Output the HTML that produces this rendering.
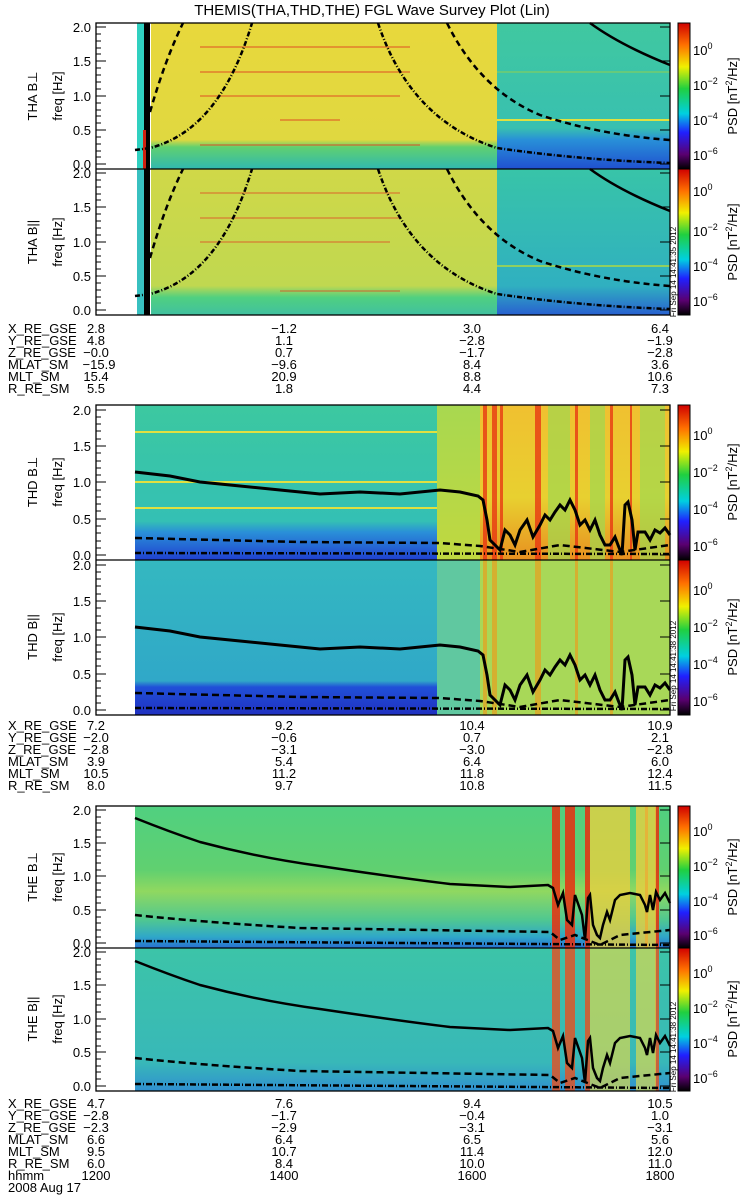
<!DOCTYPE html>
<html><head><meta charset="utf-8"><style>
body{margin:0;background:#fff;}
svg{display:block;font-family:"Liberation Sans",sans-serif;}
text{font-size:13px;fill:#000;}
text.st{font-size:8px;}
</style></head><body>
<svg width="750" height="1200" viewBox="0 0 750 1200" xmlns="http://www.w3.org/2000/svg">
<defs>
<linearGradient id="cb" x1="0" y1="1" x2="0" y2="0">
<stop offset="0" stop-color="#000"/><stop offset="0.1" stop-color="#5a0070"/><stop offset="0.25" stop-color="#2020ff"/><stop offset="0.38" stop-color="#00d0e0"/><stop offset="0.55" stop-color="#20d040"/><stop offset="0.7" stop-color="#f0f000"/><stop offset="0.85" stop-color="#ff7000"/><stop offset="1" stop-color="#d00000"/>
</linearGradient>
<linearGradient id="g1y" x1="0" y1="0" x2="0" y2="1"><stop offset="0" stop-color="#e8d83c"/><stop offset="0.8" stop-color="#e0d840"/><stop offset="0.85" stop-color="#60d070"/><stop offset="1" stop-color="#30b8b0"/></linearGradient>
<linearGradient id="g1c" x1="0" y1="0" x2="0" y2="1"><stop offset="0" stop-color="#40c8a0"/><stop offset="0.72" stop-color="#38c0b0"/><stop offset="0.8" stop-color="#2890d8"/><stop offset="1" stop-color="#2050d0"/></linearGradient>
<linearGradient id="g2y" x1="0" y1="0" x2="0" y2="1"><stop offset="0" stop-color="#d0d848"/><stop offset="0.8" stop-color="#c0d850"/><stop offset="0.88" stop-color="#50d080"/><stop offset="1" stop-color="#40c0a0"/></linearGradient>
<linearGradient id="g2c" x1="0" y1="0" x2="0" y2="1"><stop offset="0" stop-color="#38c4a8"/><stop offset="0.8" stop-color="#30b0c0"/><stop offset="1" stop-color="#2860d0"/></linearGradient>
<linearGradient id="g3c" x1="0" y1="0" x2="0" y2="1"><stop offset="0" stop-color="#3cc8a0"/><stop offset="0.75" stop-color="#34c0b4"/><stop offset="0.82" stop-color="#2a90d8"/><stop offset="1" stop-color="#2040d0"/></linearGradient>
<linearGradient id="g4c" x1="0" y1="0" x2="0" y2="1"><stop offset="0" stop-color="#34b8c0"/><stop offset="0.78" stop-color="#30a8c8"/><stop offset="0.82" stop-color="#2050d8"/><stop offset="1" stop-color="#2030c0"/></linearGradient>
<linearGradient id="g5c" x1="0" y1="0" x2="0" y2="1"><stop offset="0" stop-color="#50d080"/><stop offset="0.45" stop-color="#60d070"/><stop offset="0.6" stop-color="#90d860"/><stop offset="0.8" stop-color="#50c890"/><stop offset="0.92" stop-color="#30a8c8"/><stop offset="1" stop-color="#2870d0"/></linearGradient>
<linearGradient id="g6c" x1="0" y1="0" x2="0" y2="1"><stop offset="0" stop-color="#3cc4a8"/><stop offset="0.8" stop-color="#38b8b8"/><stop offset="1" stop-color="#3090d0"/></linearGradient>
<linearGradient id="gr" x1="0" y1="0" x2="0" y2="1"><stop offset="0" stop-color="#f0c030"/><stop offset="0.6" stop-color="#e8d030"/><stop offset="1" stop-color="#e89020"/></linearGradient>
<linearGradient id="grg" x1="0" y1="0" x2="0" y2="1"><stop offset="0" stop-color="#a8d850"/><stop offset="1" stop-color="#c0d840"/></linearGradient>
</defs>

<text x="372" y="15" text-anchor="middle" style="font-size:15px">THEMIS(THA,THD,THE) FGL Wave Survey Plot (Lin)</text>

<!-- PANEL 1 -->
<rect x="137" y="23" width="8" height="146" fill="#30d0c0"/>
<rect x="151" y="23" width="346" height="146" fill="url(#g1y)"/>
<rect x="497" y="23" width="173" height="146" fill="url(#g1c)"/>
<g stroke="#e04020" stroke-width="1.5" opacity="0.6"><line x1="200" y1="47" x2="410" y2="47"/><line x1="200" y1="72" x2="410" y2="72"/><line x1="200" y1="96" x2="400" y2="96"/><line x1="280" y1="120" x2="340" y2="120"/><line x1="200" y1="145" x2="420" y2="145"/></g>
<line x1="497" y1="120" x2="670" y2="120" stroke="#e0e040" stroke-width="2"/>
<line x1="497" y1="72" x2="670" y2="72" stroke="#90d050" stroke-width="1"/>
<rect x="144" y="23" width="6" height="146" fill="#000"/>
<rect x="143" y="130" width="3" height="39" fill="#d02010"/>
<g fill="none" stroke="#000" stroke-width="2.5">
<path d="M590,23 Q620,45 670,65"/>
<path d="M150,112 Q165,60 183,23" stroke-dasharray="6,4"/>
<path d="M447,23 Q480,90 540,115 Q600,135 670,140" stroke-dasharray="6,4"/>
<path d="M135,150 L150,148 Q220,130 252,23" stroke-dasharray="5,2,1,2"/>
<path d="M378,23 Q410,120 497,148 Q580,160 670,163" stroke-dasharray="5,2,1,2"/>
</g>

<!-- PANEL 2 -->
<rect x="137" y="169" width="8" height="146" fill="#38c0c0"/>
<rect x="151" y="169" width="346" height="146" fill="url(#g2y)"/>
<rect x="497" y="169" width="173" height="146" fill="url(#g2c)"/>
<g stroke="#e04020" stroke-width="1.5" opacity="0.5"><line x1="200" y1="193" x2="400" y2="193"/><line x1="200" y1="218" x2="400" y2="218"/><line x1="200" y1="242" x2="390" y2="242"/><line x1="280" y1="291" x2="400" y2="291"/></g>
<line x1="497" y1="266" x2="670" y2="266" stroke="#90d060" stroke-width="2"/>
<rect x="144" y="169" width="6" height="146" fill="#000"/>
<g fill="none" stroke="#000" stroke-width="2.5">
<path d="M590,169 Q620,191 670,211"/>
<path d="M150,258 Q165,206 183,169" stroke-dasharray="6,4"/>
<path d="M447,169 Q480,236 540,261 Q600,281 670,286" stroke-dasharray="6,4"/>
<path d="M135,296 L150,294 Q220,276 252,169" stroke-dasharray="5,2,1,2"/>
<path d="M378,169 Q410,266 497,294 Q580,306 670,309" stroke-dasharray="5,2,1,2"/>
</g>

<!-- PANEL 3 -->
<rect x="135" y="405" width="302" height="155" fill="url(#g3c)"/>
<rect x="437" y="405" width="43" height="155" fill="url(#grg)"/>
<rect x="480" y="405" width="190" height="155" fill="url(#gr)"/>
<g fill="#e83010" opacity="0.75"><rect x="483" y="405" width="4" height="155"/><rect x="492" y="405" width="5" height="155"/><rect x="500" y="405" width="3" height="155"/><rect x="535" y="405" width="6" height="155"/><rect x="575" y="405" width="3" height="155"/><rect x="610" y="405" width="3" height="155"/><rect x="630" y="405" width="2" height="155"/></g>
<g fill="#a0d850" opacity="0.7"><rect x="548" y="405" width="22" height="155"/><rect x="590" y="405" width="15" height="155"/><rect x="640" y="405" width="25" height="155"/></g>
<g stroke="#e0e040" stroke-width="2"><line x1="135" y1="432" x2="437" y2="432"/><line x1="135" y1="482" x2="437" y2="482"/><line x1="135" y1="508" x2="437" y2="508"/></g>
<g fill="none" stroke="#000" stroke-width="2.5">
<path d="M135,472 L170,476 L200,482 L240,486 L280,490 L320,494 L360,492 L400,494 L440,490 L460,492 L478,496 L483,500 L487,520 L490,540 L495,545 L500,550 L505,530 L510,535 L515,545 L520,530 L527,520 L533,537 L540,525 L545,515 L550,520 L555,512 L560,505 L565,510 L570,500 L575,510 L580,525 L585,520 L590,530 L595,520 L600,535 L605,545 L610,545 L615,537 L618,545 L622,555 L625,505 L628,502 L632,520 L635,550 L638,532 L645,532 L650,540 L655,530 L660,533 L665,528 L670,535" stroke-width="3"/>
<path d="M135,538 L300,542 L440,543 L480,546 L520,552 L560,545 L620,552 L670,545" stroke-dasharray="7,4"/>
<path d="M135,553 L670,554" stroke-dasharray="6,2,1,2"/>
</g>

<!-- PANEL 4 -->
<rect x="135" y="560" width="302" height="155" fill="url(#g4c)"/>
<rect x="437" y="560" width="43" height="155" fill="#60c8a0"/>
<rect x="480" y="560" width="190" height="155" fill="#a8d858"/>
<g fill="#e8a020" opacity="0.7"><rect x="483" y="560" width="4" height="155"/><rect x="492" y="560" width="5" height="155"/><rect x="535" y="560" width="6" height="155"/><rect x="575" y="560" width="3" height="155"/><rect x="610" y="560" width="3" height="155"/></g>
<g fill="none" stroke="#000" stroke-width="2.5">
<path d="M135,627 L170,631 L200,637 L240,641 L280,645 L320,649 L360,647 L400,649 L440,645 L460,647 L478,651 L483,655 L487,675 L490,695 L495,700 L500,705 L505,685 L510,690 L515,700 L520,685 L527,675 L533,692 L540,680 L545,670 L550,675 L555,667 L560,660 L565,665 L570,655 L575,665 L580,680 L585,675 L590,685 L595,675 L600,690 L605,700 L610,700 L615,692 L618,700 L622,710 L625,660 L628,657 L632,675 L635,705 L638,687 L645,687 L650,695 L655,685 L660,688 L665,683 L670,690" stroke-width="3"/>
<path d="M135,693 L300,697 L440,698 L480,701 L520,707 L560,700 L620,707 L670,700" stroke-dasharray="7,4"/>
<path d="M135,708 L670,709" stroke-dasharray="6,2,1,2"/>
</g>

<!-- PANEL 5 -->
<rect x="135" y="806" width="535" height="142" fill="url(#g5c)"/>
<g fill="#e83010" opacity="0.85"><rect x="552" y="806" width="8" height="142"/><rect x="565" y="806" width="10" height="142"/><rect x="585" y="806" width="5" height="142"/><rect x="655" y="806" width="4" height="142"/><rect x="645" y="806" width="3" height="142"/></g>
<g fill="#e8d040" opacity="0.8"><rect x="590" y="806" width="40" height="142"/><rect x="636" y="806" width="20" height="142"/></g>
<g fill="none" stroke="#000" stroke-width="2.5">
<path d="M135,818 Q170,832 200,842 Q260,858 320,866 Q400,878 450,884 L510,887 L548,885 L553,888 L558,905 L563,893 L567,920 L572,925 L575,895 L582,915 L585,940 L588,898 L590,895 L593,925 L597,935 L600,938 L603,925 L607,912 L610,920 L615,900 L620,895 L630,893 L640,895 L645,905 L647,912 L650,895 L653,910 L656,892 L660,900 L665,893 L670,903"/>
<path d="M135,915 Q200,922 300,928 L550,932 L560,940 L575,935 L600,945 L620,935 L670,930" stroke-dasharray="7,4"/>
<path d="M135,941 L670,945" stroke-dasharray="6,2,1,2"/>
</g>

<!-- PANEL 6 -->
<rect x="135" y="948" width="535" height="143" fill="url(#g6c)"/>
<g fill="#e85020" opacity="0.8"><rect x="552" y="948" width="8" height="143"/><rect x="565" y="948" width="10" height="143"/><rect x="585" y="948" width="5" height="143"/><rect x="655" y="948" width="4" height="143"/></g>
<g fill="#d8d850" opacity="0.7"><rect x="590" y="948" width="40" height="143"/><rect x="636" y="948" width="20" height="143"/></g>
<g fill="none" stroke="#000" stroke-width="2.5">
<path d="M135,961 Q170,975 200,985 Q260,1001 320,1009 Q400,1021 450,1027 L510,1030 L548,1028 L553,1031 L558,1048 L563,1036 L567,1063 L572,1068 L575,1038 L582,1058 L585,1083 L588,1041 L590,1038 L593,1068 L597,1078 L600,1081 L603,1068 L607,1055 L610,1063 L615,1043 L620,1038 L630,1036 L640,1038 L645,1048 L647,1055 L650,1038 L653,1053 L656,1035 L660,1043 L665,1036 L670,1046"/>
<path d="M135,1058 Q200,1065 300,1071 L550,1075 L560,1083 L575,1078 L600,1088 L620,1078 L670,1073" stroke-dasharray="7,4"/>
<path d="M135,1084 L670,1088" stroke-dasharray="6,2,1,2"/>
</g>

<!-- frames and ticks -->
<g fill="none" stroke="#000" stroke-width="1.3">
<rect x="96" y="23" width="574" height="292"/><line x1="96" y1="169" x2="670" y2="169"/>
<rect x="96" y="405" width="574" height="310"/><line x1="96" y1="560" x2="670" y2="560"/>
<rect x="96" y="806" width="574" height="285"/><line x1="96" y1="948" x2="670" y2="948"/>
</g>
<g stroke="#000" stroke-width="1">
<path d="M96,27h10M96,61h10M96,96h10M96,130h10M96,164h10M96,34h5M96,41h5M96,48h5M96,54h5M96,68h5M96,75h5M96,82h5M96,89h5M96,103h5M96,110h5M96,116h5M96,123h5M96,137h5M96,144h5M96,151h5M96,157h5"/>
<path d="M96,173h10M96,207h10M96,242h10M96,276h10M96,310h10M96,180h5M96,187h5M96,194h5M96,200h5M96,214h5M96,221h5M96,228h5M96,235h5M96,249h5M96,256h5M96,262h5M96,269h5M96,283h5M96,290h5M96,297h5M96,303h5"/>
<path d="M96,410h10M96,446h10M96,482h10M96,519h10M96,555h10M96,417h5M96,424h5M96,431h5M96,439h5M96,453h5M96,461h5M96,468h5M96,475h5M96,490h5M96,497h5M96,504h5M96,511h5M96,526h5M96,533h5M96,541h5M96,548h5"/>
<path d="M96,565h10M96,601h10M96,637h10M96,674h10M96,710h10M96,572h5M96,579h5M96,586h5M96,594h5M96,608h5M96,616h5M96,623h5M96,630h5M96,645h5M96,652h5M96,659h5M96,666h5M96,681h5M96,688h5M96,696h5M96,703h5"/>
<path d="M96,810h10M96,843h10M96,876h10M96,910h10M96,943h10M96,817h5M96,823h5M96,830h5M96,837h5M96,850h5M96,856h5M96,863h5M96,870h5M96,883h5M96,890h5M96,897h5M96,903h5M96,917h5M96,923h5M96,930h5M96,937h5"/>
<path d="M96,952h10M96,985h10M96,1019h10M96,1052h10M96,1086h10M96,959h5M96,965h5M96,972h5M96,979h5M96,992h5M96,999h5M96,1005h5M96,1012h5M96,1026h5M96,1032h5M96,1039h5M96,1046h5M96,1059h5M96,1066h5M96,1072h5M96,1079h5"/>
<path d="M670,27h-10M670,61h-10M670,96h-10M670,130h-10M670,164h-10M670,173h-10M670,207h-10M670,242h-10M670,276h-10M670,310h-10M670,410h-10M670,446h-10M670,482h-10M670,519h-10M670,555h-10M670,565h-10M670,601h-10M670,637h-10M670,674h-10M670,710h-10M670,810h-10M670,843h-10M670,876h-10M670,910h-10M670,943h-10M670,952h-10M670,985h-10M670,1019h-10M670,1052h-10M670,1086h-10"/>
</g>

<g text-anchor="end">
<text x="91" y="32">2.0</text><text x="91" y="66">1.5</text><text x="91" y="101">1.0</text><text x="91" y="135">0.5</text><text x="91" y="169">0.0</text>
<text x="91" y="178">2.0</text><text x="91" y="212">1.5</text><text x="91" y="247">1.0</text><text x="91" y="281">0.5</text><text x="91" y="315">0.0</text>
<text x="91" y="415">2.0</text><text x="91" y="451">1.5</text><text x="91" y="487">1.0</text><text x="91" y="524">0.5</text><text x="91" y="560">0.0</text>
<text x="91" y="570">2.0</text><text x="91" y="606">1.5</text><text x="91" y="642">1.0</text><text x="91" y="679">0.5</text><text x="91" y="715">0.0</text>
<text x="91" y="815">2.0</text><text x="91" y="848">1.5</text><text x="91" y="881">1.0</text><text x="91" y="915">0.5</text><text x="91" y="948">0.0</text>
<text x="91" y="957">2.0</text><text x="91" y="990">1.5</text><text x="91" y="1024">1.0</text><text x="91" y="1057">0.5</text><text x="91" y="1091">0.0</text>
</g>
<g text-anchor="middle">
<text transform="translate(37,96) rotate(-90)">THA B⊥</text><text transform="translate(62,96) rotate(-90)">freq [Hz]</text>
<text transform="translate(37,242) rotate(-90)">THA B||</text><text transform="translate(62,242) rotate(-90)">freq [Hz]</text>
<text transform="translate(37,482) rotate(-90)">THD B⊥</text><text transform="translate(62,482) rotate(-90)">freq [Hz]</text>
<text transform="translate(37,637) rotate(-90)">THD B||</text><text transform="translate(62,637) rotate(-90)">freq [Hz]</text>
<text transform="translate(37,877) rotate(-90)">THE B⊥</text><text transform="translate(62,877) rotate(-90)">freq [Hz]</text>
<text transform="translate(37,1019) rotate(-90)">THE B||</text><text transform="translate(62,1019) rotate(-90)">freq [Hz]</text>
</g>

<g stroke="#000" stroke-width="1">
<rect x="678" y="23" width="12" height="146" fill="url(#cb)"/>
<rect x="678" y="169" width="12" height="146" fill="url(#cb)"/>
<rect x="678" y="405" width="12" height="155" fill="url(#cb)"/>
<rect x="678" y="560" width="12" height="155" fill="url(#cb)"/>
<rect x="678" y="806" width="12" height="142" fill="url(#cb)"/>
<rect x="678" y="948" width="12" height="143" fill="url(#cb)"/>
</g>
<g>
<text x="693" y="55">10<tspan dy="-6" style="font-size:9px">0</tspan></text><text x="693" y="90">10<tspan dy="-6" style="font-size:9px">−2</tspan></text><text x="693" y="125">10<tspan dy="-6" style="font-size:9px">−4</tspan></text><text x="693" y="160">10<tspan dy="-6" style="font-size:9px">−6</tspan></text>
<text x="693" y="196">10<tspan dy="-6" style="font-size:9px">0</tspan></text><text x="693" y="236">10<tspan dy="-6" style="font-size:9px">−2</tspan></text><text x="693" y="271">10<tspan dy="-6" style="font-size:9px">−4</tspan></text><text x="693" y="306">10<tspan dy="-6" style="font-size:9px">−6</tspan></text>
<text x="693" y="440">10<tspan dy="-6" style="font-size:9px">0</tspan></text><text x="693" y="477">10<tspan dy="-6" style="font-size:9px">−2</tspan></text><text x="693" y="514">10<tspan dy="-6" style="font-size:9px">−4</tspan></text><text x="693" y="551">10<tspan dy="-6" style="font-size:9px">−6</tspan></text>
<text x="693" y="595">10<tspan dy="-6" style="font-size:9px">0</tspan></text><text x="693" y="632">10<tspan dy="-6" style="font-size:9px">−2</tspan></text><text x="693" y="669">10<tspan dy="-6" style="font-size:9px">−4</tspan></text><text x="693" y="706">10<tspan dy="-6" style="font-size:9px">−6</tspan></text>
<text x="693" y="836">10<tspan dy="-6" style="font-size:9px">0</tspan></text><text x="693" y="871">10<tspan dy="-6" style="font-size:9px">−2</tspan></text><text x="693" y="906">10<tspan dy="-6" style="font-size:9px">−4</tspan></text><text x="693" y="940">10<tspan dy="-6" style="font-size:9px">−6</tspan></text>
<text x="693" y="978">10<tspan dy="-6" style="font-size:9px">0</tspan></text><text x="693" y="1013">10<tspan dy="-6" style="font-size:9px">−2</tspan></text><text x="693" y="1048">10<tspan dy="-6" style="font-size:9px">−4</tspan></text><text x="693" y="1083">10<tspan dy="-6" style="font-size:9px">−6</tspan></text>
</g>
<g text-anchor="middle">
<text transform="translate(737,96) rotate(-90)">PSD [nT<tspan dy="-5" style="font-size:9px">2</tspan><tspan dy="5">/Hz]</tspan></text>
<text transform="translate(737,242) rotate(-90)">PSD [nT<tspan dy="-5" style="font-size:9px">2</tspan><tspan dy="5">/Hz]</tspan></text>
<text transform="translate(737,482) rotate(-90)">PSD [nT<tspan dy="-5" style="font-size:9px">2</tspan><tspan dy="5">/Hz]</tspan></text>
<text transform="translate(737,637) rotate(-90)">PSD [nT<tspan dy="-5" style="font-size:9px">2</tspan><tspan dy="5">/Hz]</tspan></text>
<text transform="translate(737,877) rotate(-90)">PSD [nT<tspan dy="-5" style="font-size:9px">2</tspan><tspan dy="5">/Hz]</tspan></text>
<text transform="translate(737,1019) rotate(-90)">PSD [nT<tspan dy="-5" style="font-size:9px">2</tspan><tspan dy="5">/Hz]</tspan></text>
<text class="st" transform="translate(676,272) rotate(-90)">Fri Sep 14 14:41:35 2012</text>
<text class="st" transform="translate(676,666) rotate(-90)">Fri Sep 14 14:41:38 2012</text>
<text class="st" transform="translate(676,1047) rotate(-90)">Fri Sep 14 14:41:38 2012</text>
</g>

<g>
<text x="8" y="333">X_RE_GSE</text><text x="8" y="345">Y_RE_GSE</text><text x="8" y="357">Z_RE_GSE</text><text x="8" y="369">MLAT_SM</text><text x="8" y="381">MLT_SM</text><text x="8" y="393">R_RE_SM</text>
<g text-anchor="middle">
<text x="96" y="333">2.8</text><text x="96" y="345">4.8</text><text x="96" y="357">−0.0</text><text x="99" y="369">−15.9</text><text x="96" y="381">15.4</text><text x="96" y="393">5.5</text>
<text x="284" y="333">−1.2</text><text x="284" y="345">1.1</text><text x="284" y="357">0.7</text><text x="284" y="369">−9.6</text><text x="284" y="381">20.9</text><text x="284" y="393">1.8</text>
<text x="472" y="333">3.0</text><text x="472" y="345">−2.8</text><text x="472" y="357">−1.7</text><text x="472" y="369">8.4</text><text x="472" y="381">8.8</text><text x="472" y="393">4.4</text>
<text x="660" y="333">6.4</text><text x="660" y="345">−1.9</text><text x="660" y="357">−2.8</text><text x="660" y="369">3.6</text><text x="660" y="381">10.6</text><text x="660" y="393">7.3</text>
</g>
<text x="8" y="730">X_RE_GSE</text><text x="8" y="742">Y_RE_GSE</text><text x="8" y="754">Z_RE_GSE</text><text x="8" y="766">MLAT_SM</text><text x="8" y="778">MLT_SM</text><text x="8" y="790">R_RE_SM</text>
<g text-anchor="middle">
<text x="96" y="730">7.2</text><text x="96" y="742">−2.0</text><text x="96" y="754">−2.8</text><text x="96" y="766">3.9</text><text x="96" y="778">10.5</text><text x="96" y="790">8.0</text>
<text x="284" y="730">9.2</text><text x="284" y="742">−0.6</text><text x="284" y="754">−3.1</text><text x="284" y="766">5.4</text><text x="284" y="778">11.2</text><text x="284" y="790">9.7</text>
<text x="472" y="730">10.4</text><text x="472" y="742">0.7</text><text x="472" y="754">−3.0</text><text x="472" y="766">6.4</text><text x="472" y="778">11.8</text><text x="472" y="790">10.8</text>
<text x="660" y="730">10.9</text><text x="660" y="742">2.1</text><text x="660" y="754">−2.8</text><text x="660" y="766">6.0</text><text x="660" y="778">12.4</text><text x="660" y="790">11.5</text>
</g>
<text x="8" y="1108">X_RE_GSE</text><text x="8" y="1120">Y_RE_GSE</text><text x="8" y="1132">Z_RE_GSE</text><text x="8" y="1144">MLAT_SM</text><text x="8" y="1156">MLT_SM</text><text x="8" y="1168">R_RE_SM</text><text x="8" y="1180">hhmm</text><text x="8" y="1192">2008 Aug 17</text>
<g text-anchor="middle">
<text x="96" y="1108">4.7</text><text x="96" y="1120">−2.8</text><text x="96" y="1132">−2.3</text><text x="96" y="1144">6.6</text><text x="96" y="1156">9.5</text><text x="96" y="1168">6.0</text><text x="96" y="1180">1200</text>
<text x="284" y="1108">7.6</text><text x="284" y="1120">−1.7</text><text x="284" y="1132">−2.9</text><text x="284" y="1144">6.4</text><text x="284" y="1156">10.7</text><text x="284" y="1168">8.4</text><text x="284" y="1180">1400</text>
<text x="472" y="1108">9.4</text><text x="472" y="1120">−0.4</text><text x="472" y="1132">−3.1</text><text x="472" y="1144">6.5</text><text x="472" y="1156">11.4</text><text x="472" y="1168">10.0</text><text x="472" y="1180">1600</text>
<text x="660" y="1108">10.5</text><text x="660" y="1120">1.0</text><text x="660" y="1132">−3.1</text><text x="660" y="1144">5.6</text><text x="660" y="1156">12.0</text><text x="660" y="1168">11.0</text><text x="660" y="1180">1800</text>
</g>
</g>
</svg>
</body></html>
